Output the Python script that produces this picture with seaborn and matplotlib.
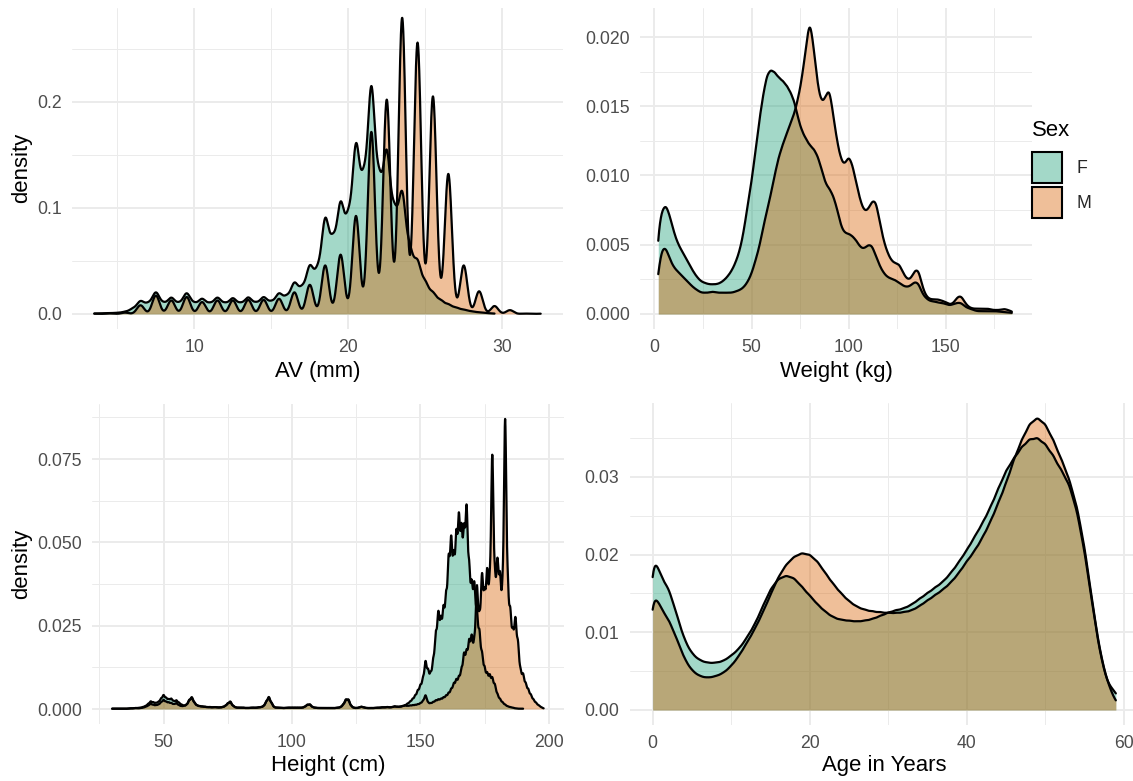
import numpy as np
import matplotlib
matplotlib.use("Agg")
import matplotlib.pyplot as plt
import seaborn as sns
from matplotlib.patches import Patch
from matplotlib.colors import to_rgba

# ---------------- data ----------------
# AV (mm): measurement values and their relative frequencies
av_m_mm = [3.5, 4.5, 5.5, 6.5, 7.5, 8.5, 9.5, 10.5, 11.5, 12.5, 13.5, 14.5, 15.5, 16.5, 17.5,
           18.5, 19.5, 20.5, 21.5, 22.5, 23.5, 24.5, 25.5, 26.5, 27.5, 28.5, 29.5, 30.5, 31.5, 32.5]
av_m_w = [0.0003, 0.0005, 0.0012, 0.008, 0.017, 0.0125, 0.0157, 0.011, 0.0125, 0.0125, 0.013, 0.013,
          0.014, 0.020, 0.027, 0.045, 0.055, 0.091, 0.169, 0.199, 0.275, 0.252, 0.202, 0.130, 0.045,
          0.021, 0.0073, 0.0035, 0.0003, 0.0002]
av_f_mm = np.arange(3.5, 29.75, 0.5)
av_f_w = [0.00015, 0.00025, 0.0004, 0.0005, 0.001, 0.0025,
          0.0064, 0.0048, 0.0109, 0.0048, 0.0080, 0.0048, 0.0104, 0.0048, 0.0074, 0.0048,
          0.0080, 0.0048, 0.0077, 0.0048, 0.0081, 0.0050, 0.0082, 0.0055, 0.0100,
          0.0080, 0.0153, 0.0120, 0.0236, 0.0200, 0.0475, 0.0340, 0.0541, 0.0440, 0.0835,
          0.0610, 0.1134, 0.0610, 0.0796, 0.0470, 0.0599, 0.0300, 0.0254,
          0.0150, 0.0100, 0.0065, 0.0045, 0.0030, 0.0020, 0.00125, 0.00075, 0.0004, 0.00015]

# Weight (kg)
wt_kg = np.arange(2, 186, 2)
wt_f = [0.0061, 0.0074, 0.0078, 0.0069, 0.0058, 0.0050, 0.0045, 0.0040, 0.0035, 0.0030,
        0.0026, 0.0023, 0.0022, 0.0021, 0.0021, 0.0021, 0.0022, 0.0024, 0.0027, 0.0031,
        0.0037, 0.0045, 0.0058, 0.0077, 0.0093, 0.0115, 0.0137, 0.0155, 0.0170, 0.0173,
        0.0171, 0.0167, 0.0165, 0.0162, 0.0157, 0.0151, 0.0138, 0.0129, 0.0124, 0.0119,
        0.0117, 0.0112, 0.0103, 0.0092, 0.0089, 0.0084, 0.0075, 0.0062, 0.0057, 0.0057,
        0.0055, 0.0052, 0.0047, 0.0046, 0.0049, 0.0049, 0.0041, 0.0034, 0.0029, 0.0026,
        0.0025, 0.0024, 0.0022, 0.0020, 0.0019, 0.0020, 0.0023, 0.0022, 0.0014, 0.0011,
        0.0009, 0.0009, 0.0008, 0.0008, 0.0007, 0.0006, 0.0007, 0.0008, 0.0008, 0.0005,
        0.0004, 0.0003, 0.0002, 0.0002, 0.0002, 0.0002, 0.0002, 0.0002, 0.00015, 0.00015,
        0.0001, 0.0001]
wt_m = [0.0033, 0.0050, 0.0050, 0.0041, 0.0035, 0.0032, 0.0029, 0.0026, 0.0023, 0.0020,
        0.0018, 0.0016, 0.0016, 0.0016, 0.0017, 0.0016, 0.0016, 0.0016, 0.0016, 0.0016,
        0.0017, 0.0018, 0.0020, 0.0024, 0.0030, 0.0040, 0.0050, 0.0065, 0.0078, 0.0090,
        0.0105, 0.0118, 0.0127, 0.0135, 0.0143, 0.0150, 0.0162, 0.0177, 0.0200, 0.0225,
        0.0200, 0.0172, 0.0158, 0.0162, 0.0172, 0.0150, 0.0130, 0.0116, 0.0111, 0.0120,
        0.0112, 0.0098, 0.0085, 0.0077, 0.0078, 0.0085, 0.0086, 0.0069, 0.0055, 0.0046,
        0.0040, 0.0038, 0.0038, 0.0031, 0.0026, 0.0026, 0.0033, 0.0034, 0.0020, 0.0013,
        0.0011, 0.0011, 0.0011, 0.0010, 0.0009, 0.0007, 0.0008, 0.0013, 0.0014, 0.0008,
        0.0005, 0.0004, 0.0004, 0.0004, 0.0004, 0.0004, 0.0003, 0.0003, 0.0003, 0.0004,
        0.0003, 0.0002]

# Height (cm)
ht_tail_cm = np.arange(30, 145)
ht_tail_f = [0.0001, 0.0001, 0.0001, 0.0001, 0.0001, 0.0001, 0.0001, 0.0002, 0.0002, 0.0003,
             0.0003, 0.0004, 0.0006, 0.0009, 0.0015, 0.0023, 0.0020, 0.0018, 0.0021, 0.0031,
             0.0042, 0.0033, 0.0029, 0.0031, 0.0023, 0.0026, 0.0019, 0.0013, 0.0010, 0.0013,
             0.0027, 0.0036, 0.0020, 0.0011, 0.0009, 0.0008, 0.0007, 0.0006, 0.0006, 0.0005,
             0.0006, 0.0005, 0.0005, 0.0006, 0.0009, 0.0017, 0.0023, 0.0010, 0.0005, 0.0004,
             0.0004, 0.0004, 0.0003, 0.0003, 0.0004, 0.0004, 0.0004, 0.0005, 0.0006, 0.0009,
             0.0023, 0.0037, 0.0019, 0.0006, 0.0004, 0.0004, 0.0003, 0.0003, 0.0004, 0.0004,
             0.0004, 0.0004, 0.0004, 0.0004, 0.0004, 0.0007, 0.0013, 0.0014, 0.0006, 0.0004,
             0.0003, 0.0003, 0.0003, 0.0003, 0.0003, 0.0003, 0.0003, 0.0003, 0.0004, 0.0006,
             0.0014, 0.0029, 0.0029, 0.0010, 0.0004, 0.0003, 0.0004, 0.0007, 0.0005, 0.0003,
             0.0003, 0.0003, 0.0003, 0.0004, 0.0004, 0.0005, 0.0005, 0.0006, 0.0005, 0.0006,
             0.0008, 0.0007, 0.0007, 0.0009, 0.0011]
ht_tail_m = [0.0001, 0.0001, 0.0001, 0.0001, 0.0001, 0.0001, 0.0001, 0.0002, 0.0002, 0.0003,
             0.0002, 0.0003, 0.0004, 0.0007, 0.0011, 0.0017, 0.0013, 0.0012, 0.0014, 0.0021,
             0.0029, 0.0023, 0.0021, 0.0019, 0.0015, 0.0019, 0.0012, 0.0009, 0.0010, 0.0013,
             0.0027, 0.0036, 0.0020, 0.0011, 0.0009, 0.0008, 0.0007, 0.0006, 0.0006, 0.0005,
             0.0006, 0.0005, 0.0005, 0.0006, 0.0009, 0.0017, 0.0023, 0.0010, 0.0005, 0.0004,
             0.0004, 0.0004, 0.0003, 0.0003, 0.0004, 0.0004, 0.0004, 0.0005, 0.0006, 0.0009,
             0.0023, 0.0037, 0.0019, 0.0006, 0.0004, 0.0004, 0.0003, 0.0003, 0.0004, 0.0004,
             0.0004, 0.0004, 0.0004, 0.0004, 0.0004, 0.0007, 0.0013, 0.0014, 0.0006, 0.0004,
             0.0003, 0.0003, 0.0003, 0.0003, 0.0003, 0.0003, 0.0003, 0.0003, 0.0004, 0.0006,
             0.0014, 0.0029, 0.0029, 0.0010, 0.0004, 0.0003, 0.0004, 0.0007, 0.0005, 0.0003,
             0.0003, 0.0003, 0.0003, 0.0004, 0.0004, 0.0005, 0.0005, 0.0006, 0.0005, 0.0006,
             0.0008, 0.0007, 0.0007, 0.0009, 0.0011]
ht_main_f_cm = np.arange(145, 191)
ht_main_f = [0.0016, 0.0022, 0.0030, 0.0040, 0.0055, 0.0070, 0.0090, 0.0145, 0.0115, 0.0105,
             0.0145, 0.0225, 0.0290, 0.0265, 0.0300, 0.0335, 0.0450, 0.0510, 0.0450, 0.0520,
             0.0575, 0.0535, 0.0530, 0.0610, 0.0420, 0.0370, 0.0375, 0.0290, 0.0230, 0.0165,
             0.0122, 0.0106, 0.0101, 0.0093, 0.0073, 0.0044, 0.0030, 0.0020, 0.0013, 0.0008,
             0.0006, 0.0004, 0.0002, 0.0001, 0.0001, 0.0001]
ht_main_m_cm = np.arange(145, 199)
ht_main_m = [0.0010, 0.0011, 0.0012, 0.0013, 0.0015, 0.0018, 0.0025, 0.0045, 0.0020, 0.0018,
             0.0022, 0.0027, 0.0030, 0.0032, 0.0036, 0.0042, 0.0050, 0.0062, 0.0080, 0.0092,
             0.0100, 0.0125, 0.0175, 0.0180, 0.0215, 0.0230, 0.0205, 0.0400, 0.0280, 0.0430,
             0.0360, 0.0440, 0.0380, 0.0840, 0.0400, 0.0470, 0.0420, 0.0360, 0.0970, 0.0390,
             0.0310, 0.0240, 0.0290, 0.0210, 0.0120, 0.0110, 0.0080, 0.0062, 0.0045, 0.0030,
             0.0020, 0.0012, 0.0006, 0.0002]

# Age in years
age_yr = np.arange(0, 60)
age_f = [0.0205, 0.0163, 0.0152, 0.0120, 0.0087, 0.0069, 0.0061, 0.0058, 0.0058, 0.0060,
         0.0067, 0.0075, 0.0089, 0.0105, 0.0127, 0.0149, 0.0162, 0.0166, 0.0163, 0.0152,
         0.0141, 0.0130, 0.0121, 0.0114, 0.0111, 0.0110, 0.0109, 0.0110, 0.0112, 0.0116,
         0.0120, 0.0123, 0.0125, 0.0130, 0.0137, 0.0144, 0.0151, 0.0158, 0.0169, 0.0182,
         0.0197, 0.0213, 0.0230, 0.0249, 0.0272, 0.0295, 0.0310, 0.0324, 0.0334, 0.0336,
         0.0328, 0.0314, 0.0296, 0.0280, 0.0248, 0.0197, 0.0130, 0.0068, 0.0030, 0.0023]
age_m = [0.0160, 0.0130, 0.0117, 0.0093, 0.0066, 0.0050, 0.0043, 0.0041, 0.0043, 0.0047,
         0.0056, 0.0069, 0.0086, 0.0103, 0.0124, 0.0147, 0.0170, 0.0186, 0.0196, 0.0201,
         0.0199, 0.0190, 0.0175, 0.0161, 0.0149, 0.0139, 0.0132, 0.0128, 0.0126, 0.0125,
         0.0124, 0.0124, 0.0125, 0.0127, 0.0133, 0.0140, 0.0147, 0.0154, 0.0163, 0.0175,
         0.0190, 0.0203, 0.0220, 0.0240, 0.0264, 0.0289, 0.0320, 0.0345, 0.0366, 0.0375,
         0.0366, 0.0346, 0.0322, 0.0297, 0.0263, 0.0210, 0.0138, 0.0072, 0.0033, 0.0010]

sexes = ["F", "M"]

# ---------------- styling ----------------
sns.set_theme(style="white")
plt.rcParams["font.family"] = ["Liberation Sans", "DejaVu Sans"]

W, H = 1133, 781
fig = plt.figure(figsize=(W / 100, H / 100), dpi=100)
fig.patch.set_facecolor("white")

COLORS = {"F": "#1B9E77", "M": "#D95F02"}
GRID = "#EBEBEB"
TICK_COL = "#4D4D4D"
TICK_FS, TITLE_FS = 12.7, 15.9


def add_panel(px):
    x0, y0, x1, y1 = px
    return fig.add_axes([x0 / W, 1 - y1 / H, (x1 - x0) / W, (y1 - y0) / H])


def draw_density(ax, values, weights, sigma, color):
    values = np.asarray(values, dtype=float)
    weights = np.asarray(weights, dtype=float)
    sd = float(np.sqrt(np.cov(values, aweights=weights)))
    common = dict(x=values, weights=weights, bw_method=sigma / sd, cut=0,
                  gridsize=4000, ax=ax)
    sns.kdeplot(fill=True, color=color, alpha=0.4, linewidth=0, **common)
    sns.kdeplot(fill=False, color="black", linewidth=1.6, **common)


def style(ax, px, xlim, ylim, xmaj, xmin, ymaj, ymin, ylabels, xlabel, ylabel, label_top):
    x0, y0, x1, y1 = px
    ax.set_facecolor("none")
    for s in ax.spines.values():
        s.set_visible(False)
    ax.set_xlim(xlim)
    ax.set_ylim(ylim)
    ax.set_xticks(xmaj)
    ax.set_xticklabels([f"{v:g}" for v in xmaj])
    ax.set_xticks(xmin, minor=True)
    ax.set_yticks(ymaj)
    ax.set_yticklabels(ylabels)
    ax.set_yticks(ymin, minor=True)
    ax.grid(True, which="major", color=GRID, linewidth=1.4)
    ax.grid(True, which="minor", color=GRID, linewidth=0.7)
    ax.set_axisbelow(True)
    ax.tick_params(which="both", length=0, labelsize=TICK_FS, labelcolor=TICK_COL)
    ax.tick_params(axis="x", pad=7.6)
    ax.tick_params(axis="y", pad=7.3)
    ax.set_xlabel(xlabel, fontsize=TITLE_FS, color="black")
    ax.xaxis.set_label_coords(0.5, -(label_top - y1) / (y1 - y0))
    if ylabel:
        ax.set_ylabel(ylabel, fontsize=TITLE_FS, color="black")
        ax.yaxis.set_label_coords((32 - x0) / (x1 - x0), 0.5)
    else:
        ax.set_ylabel("")


# ---- AV panel (top left)
px_av = (72, 7.5, 563, 328.5)
ax = add_panel(px_av)
draw_density(ax, av_f_mm, av_f_w, 0.235, COLORS["F"])
draw_density(ax, av_m_mm, av_m_w, 0.235, COLORS["M"])
style(ax, px_av, (2.05, 33.95), (-0.01375, 0.28875), [10, 20, 30], [5, 15, 25],
      [0, 0.1, 0.2], [0.05, 0.15, 0.25], ["0.0", "0.1", "0.2"], "AV (mm)", "density", 361)

# ---- Weight panel (top right)
px_wt = (640, 7.5, 1032.4, 328.5)
ax = add_panel(px_wt)
draw_density(ax, wt_kg, wt_f, 1.3, COLORS["F"])
draw_density(ax, wt_kg, wt_m, 1.3, COLORS["M"])
style(ax, px_wt, (-7.4, 194.6), (-0.001047, 0.02213), [0, 50, 100, 150], [25, 75, 125, 175],
      [0, 0.005, 0.010, 0.015, 0.020], [0.0025, 0.0075, 0.0125, 0.0175],
      ["0.000", "0.005", "0.010", "0.015", "0.020"], "Weight (kg)", None, 361)

# ---- Height panel (bottom left)
px_ht = (92, 403.5, 563.8, 723.6)
ax = add_panel(px_ht)
draw_density(ax, np.concatenate([ht_tail_cm, ht_main_f_cm]), ht_tail_f + ht_main_f, 0.45, COLORS["F"])
draw_density(ax, np.concatenate([ht_tail_cm, ht_main_m_cm]), ht_tail_m + ht_main_m, 0.45, COLORS["M"])
style(ax, px_ht, (22.15, 205.85), (-0.00438, 0.09169), [50, 100, 150, 200], [25, 75, 125, 175],
      [0, 0.025, 0.050, 0.075], [0.0125, 0.0375, 0.0625, 0.0875],
      ["0.000", "0.025", "0.050", "0.075"], "Height (cm)", "density", 755)

# ---- Age panel (bottom right)
px_age = (629.5, 403, 1139, 724.6)
ax = add_panel(px_age)
draw_density(ax, age_yr, age_f, 0.6, COLORS["F"])
draw_density(ax, age_yr, age_m, 0.6, COLORS["M"])
style(ax, px_age, (-2.95, 61.95), (-0.00188, 0.03951), [0, 20, 40, 60], [10, 30, 50],
      [0, 0.01, 0.02, 0.03], [0.005, 0.015, 0.025, 0.035],
      ["0.00", "0.01", "0.02", "0.03"], "Age in Years", None, 755)

# ---- legend
fig.text(1031.5 / W, 1 - 130 / H, "Sex", ha="left", va="center", fontsize=TITLE_FS, color="black")
handles = [Patch(facecolor=to_rgba(COLORS[s], 0.4), edgecolor="black", linewidth=1.5, label=s)
           for s in sexes]
fig.legend(handles=handles, loc="upper left",
           bbox_to_anchor=(1032 / W, 1 - 152 / H), frameon=False,
           fontsize=TICK_FS, handlelength=1.7, handleheight=2.32,
           handletextpad=0.8, labelspacing=0.25, borderpad=0, borderaxespad=0)

fig.savefig("out.png", dpi=100, facecolor="white")
